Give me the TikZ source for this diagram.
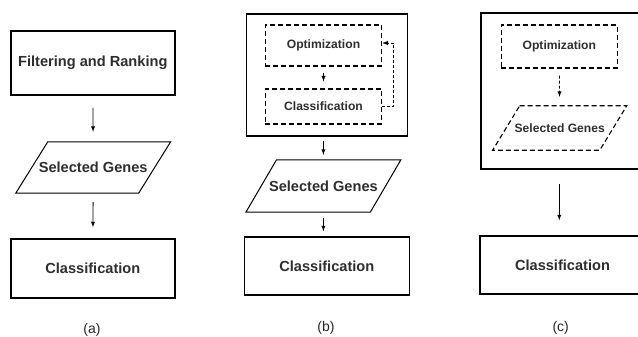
\documentclass[tikz,border=0pt]{standalone}
\usepackage{fontspec}
\setmainfont{Liberation Sans}

\tikzset{
  box/.style={draw, line width=1.5pt, inner sep=0pt, text=black!82,
    font=\bfseries\fontsize{14.6}{17}\selectfont},
  dbox/.style={draw, line width=1.1pt, dash pattern=on 5pt off 3pt, inner sep=0pt,
    text=black!82, font=\bfseries\fontsize{12.1}{14}\selectfont},
  genes/.style={inner sep=0pt, text=black!82},
  arr/.style={->, line width=0.9pt},
  darr/.style={->, line width=0.9pt, dash pattern=on 3pt off 2pt},
  lbl/.style={inner sep=0pt, font=\fontsize{14}{16}\selectfont, text=black!85}
}

% slanted outline round a node: [style]{node}{half slant}
\newcommand\slantbox[3][]{%
  \draw [#1] ([xshift=#3]#2.north west) -- ([xshift=#3]#2.north east)
    -- ([xshift=-#3]#2.south east) -- ([xshift=-#3]#2.south west) -- cycle;}

\begin{document}
\begin{tikzpicture}[>=latex, x=1pt, y=-1pt]
  \useasboundingbox (0,0) rectangle (638,337);

  % (a)
  \node (fr) at (92.8,63) [box, minimum width=164pt, minimum height=64pt] {Filtering and Ranking};
  \node (sga) at (93.2,167.5) [genes, font=\bfseries\fontsize{14.6}{17}\selectfont,
    minimum width=122.5pt, minimum height=51pt] {Selected Genes};
  \slantbox[line width=1pt]{sga}{16pt}
  \node (cla) at (92.8,268.5) [box, minimum width=164pt, minimum height=59pt] {Classification};

  \draw [arr, shorten <=12pt, shorten >=10pt] (fr) -- (sga);
  \draw [arr, shorten <=9pt, shorten >=11pt] (sga) -- (cla);

  \node (la) at (92,330) [lbl] {(a)};

  % (b)
  \node (outb) at (327,75) [box, minimum width=160.6pt, minimum height=122pt] {};
  \node (optb) at (323.5,45.5) [dbox, minimum width=116.4pt, minimum height=41pt] {Optimization};
  \node (clb) at (323.5,106.5) [dbox, minimum width=116.4pt, minimum height=35pt] {Classification};
  \node (sgb) at (323.4,186) [genes, font=\bfseries\fontsize{14.6}{17}\selectfont,
    minimum width=124pt, minimum height=52pt] {Selected Genes};
  \slantbox[line width=1pt]{sgb}{15.3pt}
  \node (clsb) at (326.8,266) [box, minimum width=165pt, minimum height=58pt] {Classification};

  \draw [darr, shorten <=6pt, shorten >=7pt] (optb) -- (clb);
  \draw [darr] (clb.east) -- ++(11.6,0) |- ([yshift=2.5pt]optb.east);
  \draw [arr, shorten <=4pt, shorten >=5pt] (sgb |- outb.south) -- (sgb.north);
  \draw [arr, shorten <=6pt, shorten >=5pt] (sgb.south) -- (sgb |- clsb.north);

  \node (lb) at (326,328) [lbl] {(b)};

  % (c)
  \node (outc) at (563,91) [box, minimum width=164pt, minimum height=156.3pt] {};
  \node (optc) at (559.3,46.5) [dbox, minimum width=116pt, minimum height=43pt] {Optimization};
  \node (sgc) at (559.7,128) [genes, font=\bfseries\fontsize{12.1}{14}\selectfont,
    minimum width=106.7pt, minimum height=44pt] {Selected Genes};
  \slantbox[line width=1.1pt, dash pattern=on 5pt off 3pt]{sgc}{13.5pt}
  \node (clsc) at (562.5,265) [box, minimum width=165pt, minimum height=58pt] {Classification};

  \draw [darr, shorten <=7pt, shorten >=9pt] (optc) -- (sgc);
  \draw [arr, shorten <=14pt, shorten >=15pt] (outc.south -| optc) -- (optc |- clsc.north);

  \node (lc) at (560.7,328) [lbl] {(c)};
\end{tikzpicture}
\end{document}
